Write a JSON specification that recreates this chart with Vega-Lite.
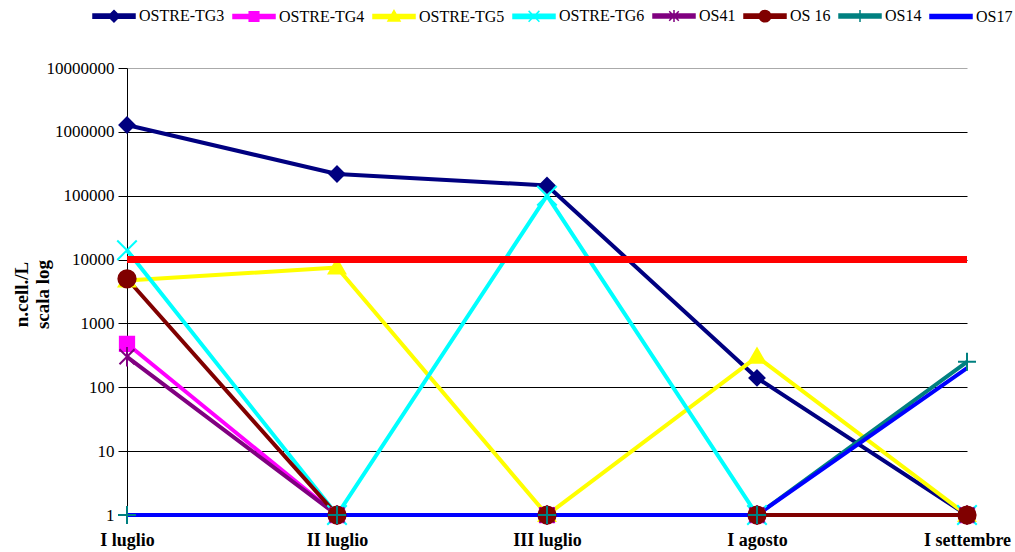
{
  "$schema": "https://vega.github.io/schema/vega-lite/v6.json",
  "width": 840,
  "height": 447,
  "autosize": "none",
  "padding": {"left": 127, "top": 68, "right": 48, "bottom": 37},
  "background": "white",
  "config": {
    "view": {"stroke": null},
    "font": "Times New Roman, Liberation Serif, serif",
    "axis": {"labelFont": "Times New Roman, Liberation Serif, serif", "titleFont": "Times New Roman, Liberation Serif, serif"},
    "legend": {"labelFont": "Times New Roman, Liberation Serif, serif", "titleFont": "Times New Roman, Liberation Serif, serif"}
  },
  "datasets": {
    "series": [
      {"period": "I luglio", "series": "OSTRE-TG3", "value": 1280000},
      {"period": "II luglio", "series": "OSTRE-TG3", "value": 219000},
      {"period": "III luglio", "series": "OSTRE-TG3", "value": 145000},
      {"period": "I agosto", "series": "OSTRE-TG3", "value": 140},
      {"period": "I settembre", "series": "OSTRE-TG3", "value": 1},
      {"period": "I luglio", "series": "OSTRE-TG4", "value": 480},
      {"period": "II luglio", "series": "OSTRE-TG4", "value": 1},
      {"period": "III luglio", "series": "OSTRE-TG4", "value": 1},
      {"period": "I agosto", "series": "OSTRE-TG4", "value": 1},
      {"period": "I settembre", "series": "OSTRE-TG4", "value": 1},
      {"period": "I luglio", "series": "OSTRE-TG5", "value": 4700},
      {"period": "II luglio", "series": "OSTRE-TG5", "value": 7500},
      {"period": "III luglio", "series": "OSTRE-TG5", "value": 1},
      {"period": "I agosto", "series": "OSTRE-TG5", "value": 300},
      {"period": "I settembre", "series": "OSTRE-TG5", "value": 1},
      {"period": "I luglio", "series": "OSTRE-TG6", "value": 14000},
      {"period": "II luglio", "series": "OSTRE-TG6", "value": 1},
      {"period": "III luglio", "series": "OSTRE-TG6", "value": 100000},
      {"period": "I agosto", "series": "OSTRE-TG6", "value": 1},
      {"period": "I settembre", "series": "OSTRE-TG6", "value": 1},
      {"period": "I luglio", "series": "OS41", "value": 300},
      {"period": "II luglio", "series": "OS41", "value": 1},
      {"period": "III luglio", "series": "OS41", "value": 1},
      {"period": "I agosto", "series": "OS41", "value": 1},
      {"period": "I settembre", "series": "OS41", "value": 1},
      {"period": "I luglio", "series": "OS 16", "value": 5000},
      {"period": "II luglio", "series": "OS 16", "value": 1},
      {"period": "III luglio", "series": "OS 16", "value": 1},
      {"period": "I agosto", "series": "OS 16", "value": 1},
      {"period": "I settembre", "series": "OS 16", "value": 1},
      {"period": "I luglio", "series": "OS14", "value": 1},
      {"period": "II luglio", "series": "OS14", "value": 1},
      {"period": "III luglio", "series": "OS14", "value": 1},
      {"period": "I agosto", "series": "OS14", "value": 1},
      {"period": "I settembre", "series": "OS14", "value": 250},
      {"period": "I luglio", "series": "OS17", "value": 1},
      {"period": "II luglio", "series": "OS17", "value": 1},
      {"period": "III luglio", "series": "OS17", "value": 1},
      {"period": "I agosto", "series": "OS17", "value": 1},
      {"period": "I settembre", "series": "OS17", "value": 200}
    ],
    "threshold": [
      {"period": "I luglio", "value": 10000},
      {"period": "I settembre", "value": 10000}
    ]
  },
  "encoding": {
    "x": {
      "field": "period",
      "type": "ordinal",
      "sort": ["I luglio", "II luglio", "III luglio", "I agosto", "I settembre"],
      "scale": {"type": "point", "padding": 0, "domain": ["I luglio", "II luglio", "III luglio", "I agosto", "I settembre"]},
      "axis": {
        "title": null,
        "labelAngle": 0,
        "labelFontSize": 18,
        "labelFontWeight": "bold",
        "labelColor": "black",
        "labelPadding": 16,
        "ticks": false,
        "tickSize": 0,
        "domainColor": "black",
        "grid": false,
        "labelOverlap": false,
        "labelBound": false
      }
    },
    "y": {
      "field": "value",
      "type": "quantitative",
      "scale": {"type": "log", "domain": [1, 10000000], "nice": false},
      "axis": {
        "title": ["n.cell./L", "scala log"],
        "titleFontSize": 19,
        "titleFontWeight": "bold",
        "titleColor": "black",
        "titleAngle": -90,
        "titleAlign": "center",
        "titleBaseline": "top",
        "titleLineHeight": 21,
        "titleX": -115,
        "titleY": 226,
        "values": [1, 10, 100, 1000, 10000, 100000, 1000000, 10000000],
        "format": "d",
        "labelFontSize": 17,
        "labelColor": "black",
        "labelPadding": 4,
        "tickSize": 9,
        "tickColor": "black",
        "domainColor": "black",
        "grid": true,
        "gridColor": {"condition": {"test": "datum.value == 10000000", "value": "#aaaaaa"}, "value": "black"},
        "gridOpacity": 1,
        "gridWidth": 1
      }
    }
  },
  "layer": [
    {
      "data": {"name": "series"},
      "mark": {"type": "line", "strokeWidth": 4, "strokeJoin": "round"},
      "encoding": {
        "color": {
          "field": "series",
          "type": "nominal",
          "scale": {
            "domain": ["OSTRE-TG3", "OSTRE-TG4", "OSTRE-TG5", "OSTRE-TG6", "OS41", "OS 16", "OS14", "OS17"],
            "range": ["#000080", "#FF00FF", "#FFFF00", "#00FFFF", "#800080", "#800000", "#008080", "#0000FF"]
          },
          "legend": {
            "title": null,
            "orient": "none",
            "direction": "horizontal",
            "legendX": -36,
            "legendY": -60,
            "padding": 0,
            "symbolSize": 144,
            "labelOffset": 32,
            "columnPadding": 5,
            "labelFontSize": 16,
            "labelColor": "black",
            "labelLimit": 200,
            "encode": {
              "symbols": {
                "update": {
                  "shape": {"signal": "datum.value == 'OSTRE-TG3' ? 'M-1,-0.35H6V0.35H-1Z M2.5,-0.95L3.45,0L2.5,0.95L1.55,0Z' : datum.value == 'OSTRE-TG4' ? 'M-1,-0.35H6V0.35H-1Z M1.7,-0.8H3.3V0.8H1.7Z' : datum.value == 'OSTRE-TG5' ? 'M-1,-0.35H6V0.35H-1Z M2.5,-1L3.5,0.75H1.5Z' : datum.value == 'OSTRE-TG6' ? 'M-1,-0.35H6V0.35H-1Z M1.6,-0.9L3.4,0.9M1.6,0.9L3.4,-0.9' : datum.value == 'OS41' ? 'M-1,-0.35H6V0.35H-1Z M1.7,-0.8L3.3,0.8M1.7,0.8L3.3,-0.8M2.5,-1L2.5,1' : datum.value == 'OS 16' ? 'M-1,-0.35H6V0.35H-1Z M1.55,0A0.95,0.95 0 1,1 3.45,0A0.95,0.95 0 1,1 1.55,0Z' : datum.value == 'OS14' ? 'M-1,-0.35H6V0.35H-1Z M1.4,0H3.6M2.5,-1V1' : 'M-1,-0.35H6V0.35H-1Z'"},
                  "fill": {"signal": "scale('color', datum.value)"},
                  "stroke": {"signal": "scale('color', datum.value)"},
                  "strokeWidth": {"value": 1.5},
                  "opacity": {"value": 1},
                  "fillOpacity": {"value": 1}
                }
              }
            }
          }
        }
      }
    },
    {
      "data": {"name": "series"},
      "transform": [{"filter": "datum.series != 'OS17'"}],
      "mark": {"type": "point", "filled": true, "size": 225, "strokeWidth": 2, "opacity": 1},
      "encoding": {
        "color": {"field": "series", "type": "nominal"},
        "stroke": {
          "field": "series",
          "type": "nominal",
          "scale": {
            "domain": ["OSTRE-TG3", "OSTRE-TG4", "OSTRE-TG5", "OSTRE-TG6", "OS41", "OS 16", "OS14", "OS17"],
            "range": ["#000080", "#FF00FF", "#FFFF00", "#00FFFF", "#800080", "#800000", "#008080", "#0000FF"]
          },
          "legend": null
        },
        "shape": {
          "field": "series",
          "type": "nominal",
          "scale": {
            "domain": ["OSTRE-TG3", "OSTRE-TG4", "OSTRE-TG5", "OSTRE-TG6", "OS41", "OS 16", "OS14"],
            "range": [
              "M0,-1L1,0L0,1L-1,0Z",
              "M-0.95,-0.95H0.95V0.95H-0.95Z",
              "M0,-1.1L1.1,0.8H-1.1Z",
              "M-1.3,-1.3L1.3,1.3M-1.3,1.3L1.3,-1.3",
              "M-1,-1L1,1M-1,1L1,-1M0,-1.3V1.3",
              "M-1.15,0A1.15,1.15 0 1,1 1.15,0A1.15,1.15 0 1,1 -1.15,0Z",
              "M-1.2,0H1.2M0,-1.2V1.2"
            ]
          },
          "legend": null
        }
      }
    },
    {
      "data": {"name": "threshold"},
      "mark": {"type": "line", "color": "#FF0000", "strokeWidth": 7},
      "encoding": {}
    }
  ]
}
